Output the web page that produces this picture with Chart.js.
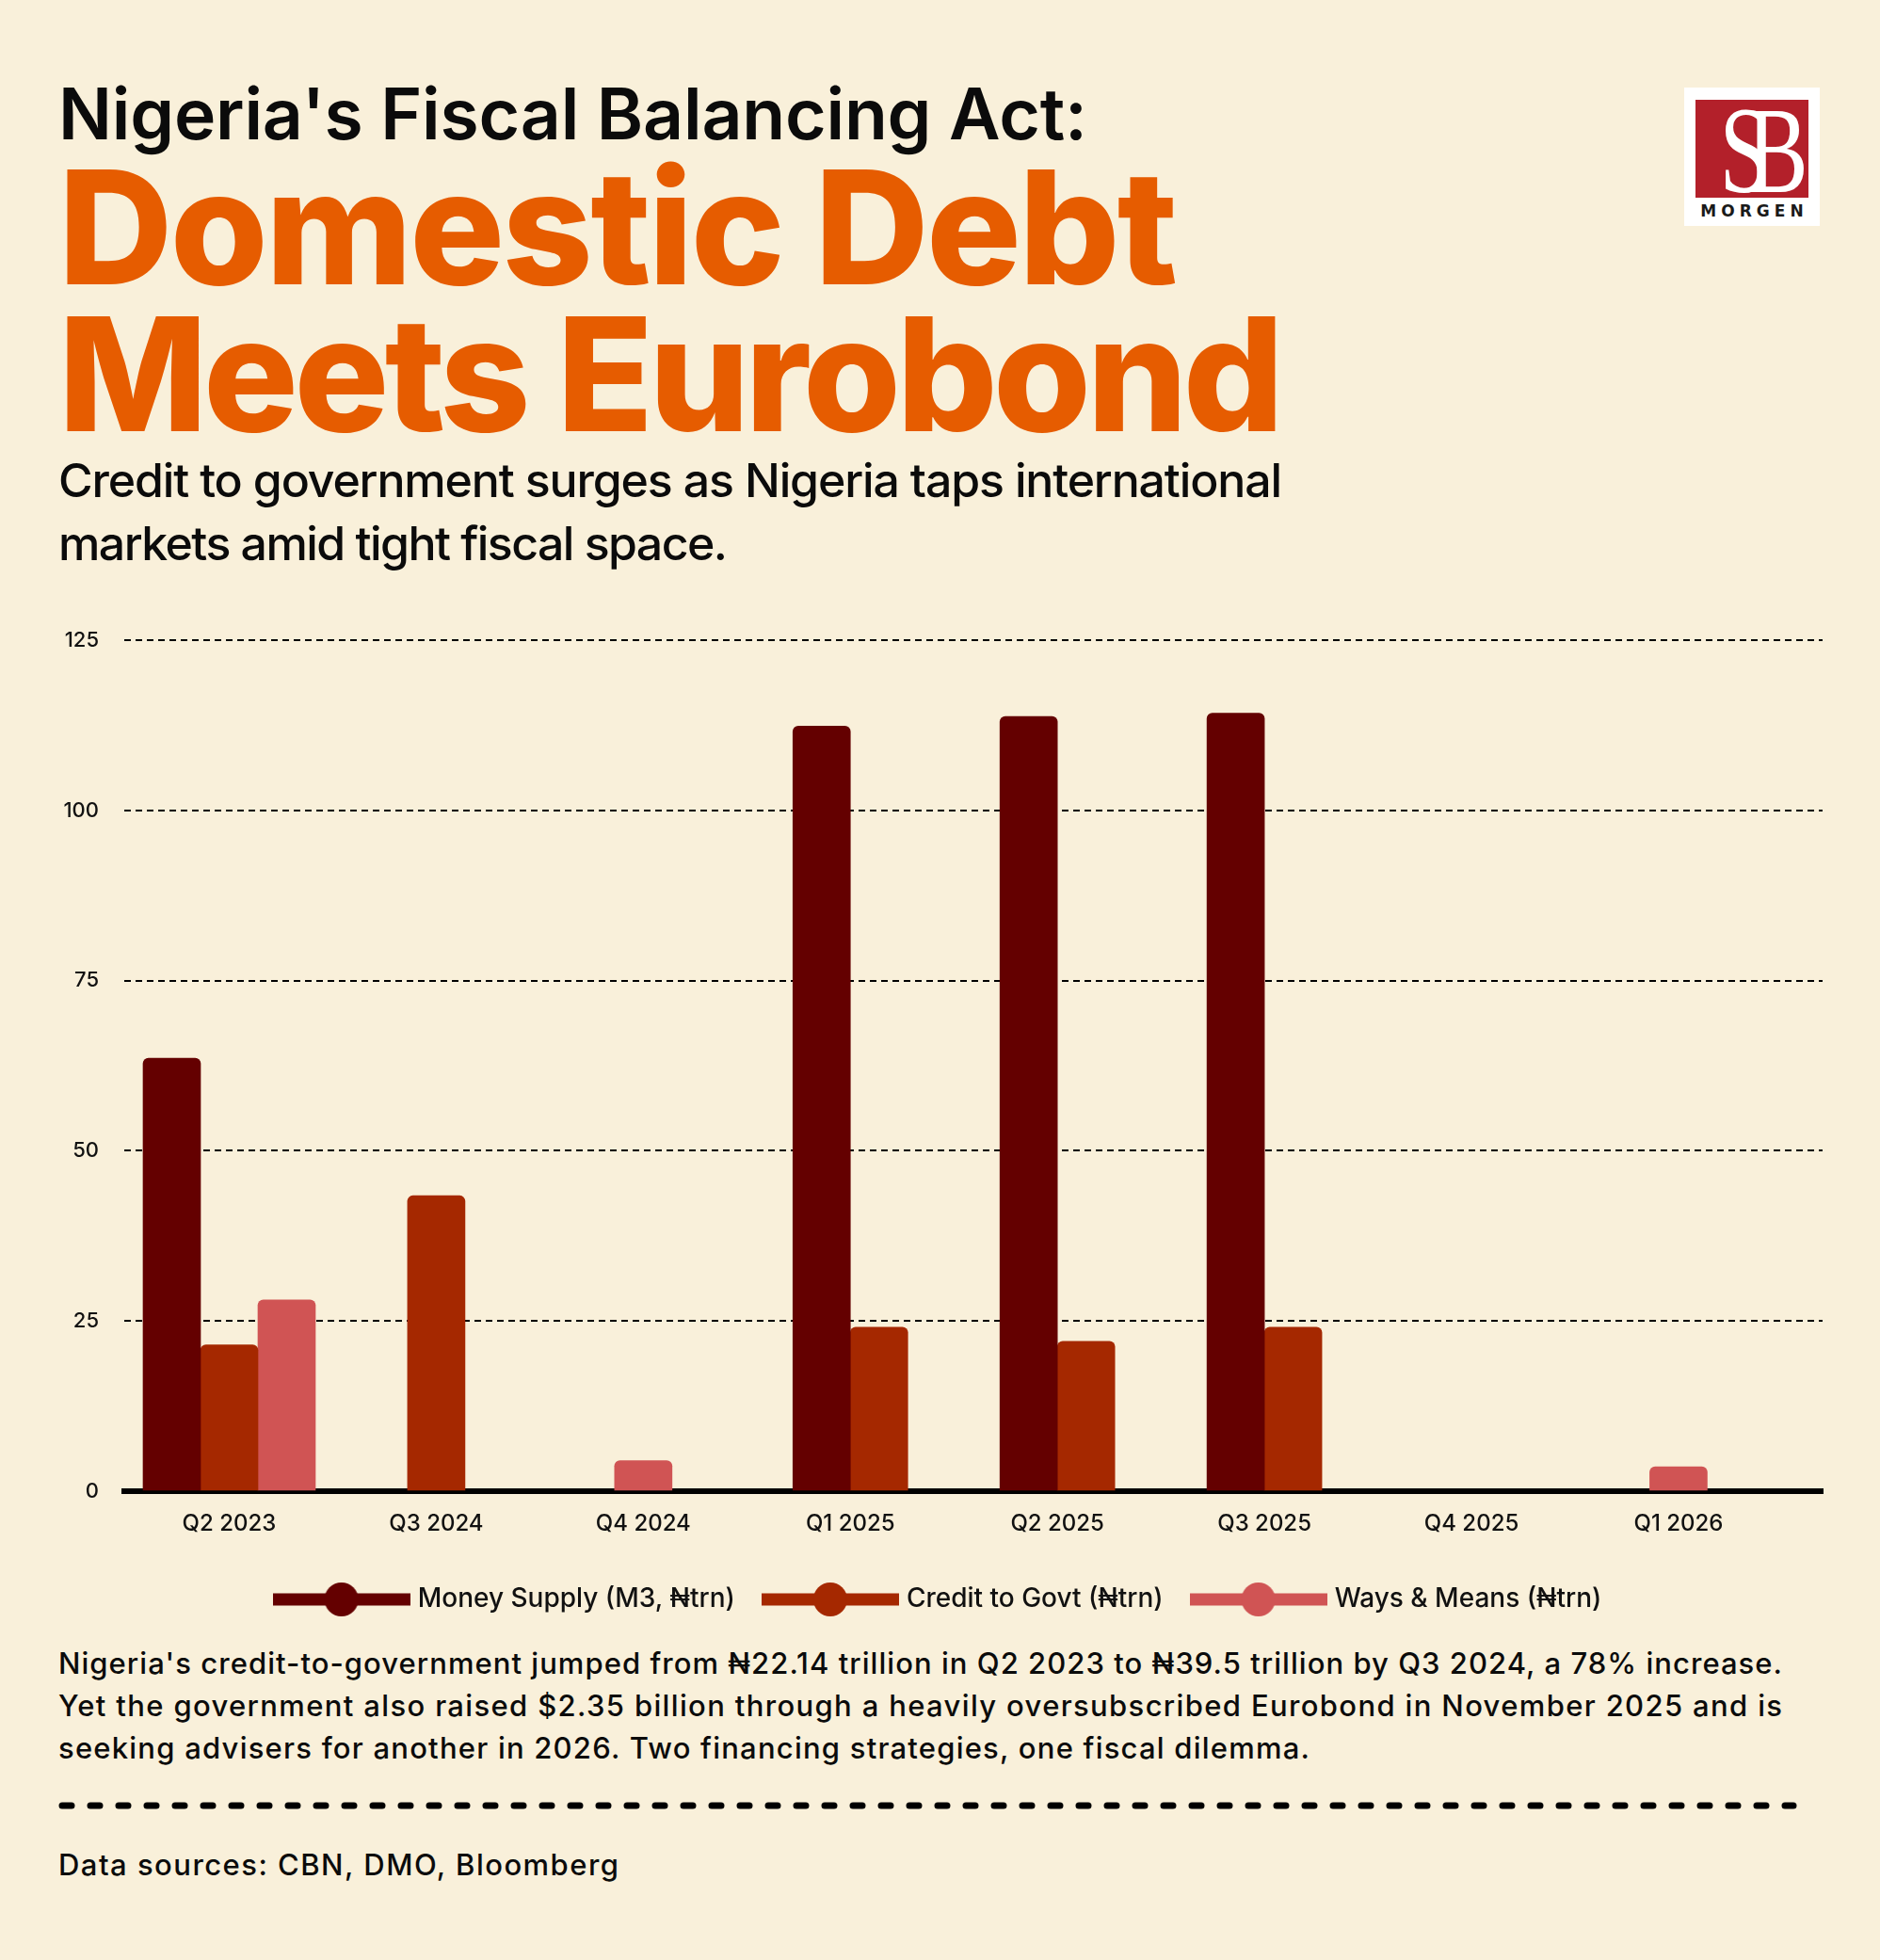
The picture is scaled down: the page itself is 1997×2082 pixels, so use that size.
<!DOCTYPE html>
<html>
<head>
<meta charset="utf-8">
<script src="https://cdn.jsdelivr.net/npm/chart.js@4.4.1/dist/chart.umd.min.js"></script>
<style>
  html, body { margin: 0; padding: 0; }
  body { width: 1997px; height: 2082px; background: #F9F0DA; position: relative; overflow: hidden;
         font-family: Inter, 'Noto Sans', sans-serif; color: #0b0b0b; }
  .txt { position: absolute; left: 62px; white-space: nowrap; display: inline-block; line-height: 1; }
  #chartBox { position: absolute; left: 0; top: 640px; width: 1997px; height: 1090px; }
  #logo { position: absolute; left: 1789px; top: 93px; width: 144px; height: 147px; background: #fff; }
  #logoRed { position: absolute; left: 12px; top: 13px; width: 120px; height: 104px; background: #B3202A; overflow: hidden; }
  #logoSB { position: absolute; left: 0; top: -12px; width: 120px; text-align: center; color: #fff;
            font-family: 'Liberation Serif', 'DejaVu Serif', serif; font-size: 132px; line-height: 1;
            letter-spacing: -34px; transform: scaleX(0.74); transform-origin: 50% 0; }
  #logoMorgen { position: absolute; left: 0; top: 121px; width: 144px; text-align: center;
                font-family: 'DejaVu Sans', sans-serif; font-weight: 600; font-size: 17px; letter-spacing: 5px;
                padding-left: 5px; box-sizing: border-box; color: #1a1a1a; }
</style>
</head>
<body>

<div class="txt" id="t1" style="font-size:75px;font-weight:600;">Nigeria's Fiscal Balancing Act:</div>
<div class="txt" id="t2" style="font-size:168px;font-weight:800;color:#E65C00;">Domestic Debt</div>
<div class="txt" id="t3" style="font-size:168px;font-weight:800;color:#E65C00;">Meets Eurobond</div>
<div class="txt" id="s1" style="font-size:50px;font-weight:500;">Credit to government surges as Nigeria taps international</div>
<div class="txt" id="s2" style="font-size:50px;font-weight:500;">markets amid tight fiscal space.</div>

<div id="logo">
  <div id="logoRed"><div id="logoSB">SB</div></div>
  <div id="logoMorgen">MORGEN</div>
</div>

<div id="chartBox"><canvas id="debtChart"></canvas></div>

<div class="txt" id="b1" style="font-size:31px;font-weight:500;">Nigeria's credit-to-government jumped from ₦22.14 trillion in Q2 2023 to ₦39.5 trillion by Q3 2024, a 78% increase.</div>
<div class="txt" id="b2" style="font-size:31px;font-weight:500;">Yet the government also raised $2.35 billion through a heavily oversubscribed Eurobond in November 2025 and is</div>
<div class="txt" id="b3" style="font-size:31px;font-weight:500;">seeking advisers for another in 2026. Two financing strategies, one fiscal dilemma.</div>

<svg style="position:absolute;left:0;top:1900px;" width="1997" height="40">
  <line x1="66" y1="18" x2="1905" y2="18" stroke="#000" stroke-width="7" stroke-linecap="round" stroke-dasharray="10 20"/>
</svg>

<div class="txt" id="src" style="font-size:31px;font-weight:500;">Data sources: CBN, DMO, Bloomberg</div>

<script>
// data (₦ trillion)
const categories = ['Q2 2023', 'Q3 2024', 'Q4 2024', 'Q1 2025', 'Q2 2025', 'Q3 2025', 'Q4 2025', 'Q1 2026'];
const moneySupply = [63.6, null, null, 112.4, 113.8, 114.3, null, null];
const creditToGovt = [21.5, 43.4, null, 24.1, 22.0, 24.1, null, null];
const waysAndMeans = [28.1, null, 4.5, null, null, null, null, 3.6];
const yTicks = [0, 25, 50, 75, 100, 125];

const seriesNames = ['Money Supply (M3, ₦trn)', 'Credit to Govt (₦trn)', 'Ways & Means (₦trn)'];
const seriesColors = ['#640000', '#A52800', '#D05454'];

const FONT = "Inter, 'Noto Sans', sans-serif";

// header / footer text: stretch to the measured widths, then sit on the baseline
function fitText(id, target) {
    const el = document.getElementById(id);
    el.style.letterSpacing = '0px';
    const w = el.getBoundingClientRect().width;
    const n = el.textContent.length;
    el.style.letterSpacing = ((target - w) / Math.max(n - 1, 1)) + 'px';
}
function setBaseline(id, baseline) {
    const el = document.getElementById(id);
    el.style.top = '0px';
    const probe = document.createElement('span');
    probe.style.cssText = 'display:inline-block;width:0;height:0;vertical-align:baseline;';
    el.appendChild(probe);
    const off = probe.getBoundingClientRect().top - el.getBoundingClientRect().top;
    el.removeChild(probe);
    el.style.top = (baseline - off) + 'px';
}
[
    ['t1', 1093, 148], ['t2', 1189, 302], ['t3', 1302, 458],
    ['s1', 1300, 528], ['s2', 711, 595],
    ['b1', 1831, 1778], ['b2', 1831, 1823], ['b3', 1329, 1868],
    ['src', 595, 1992],
].forEach(([id, w, b]) => { fitText(id, w); setBaseline(id, b); });

// legend mark: thick line with a dot in the middle
function legendMark(color) {
    const c = document.createElement('canvas');
    c.width = 146;
    c.height = 36;
    const g = c.getContext('2d');
    g.fillStyle = color;
    g.fillRect(0, 11.5, 146, 13);
    g.beginPath();
    g.arc(73, 18, 18, 0, Math.PI * 2);
    g.fill();
    return c;
}
const legendMarks = seriesColors.map(legendMark);

function toPoints(values) {
    return values.map((v, i) => ({ x: i, y: v }));
}

const ctx = document.getElementById('debtChart');

new Chart(ctx, {
    type: 'bar',
    data: {
        datasets: [
            { label: seriesNames[0], data: toPoints(moneySupply), backgroundColor: seriesColors[0] },
            { label: seriesNames[1], data: toPoints(creditToGovt), backgroundColor: seriesColors[1] },
            { label: seriesNames[2], data: toPoints(waysAndMeans), backgroundColor: seriesColors[2] },
        ],
    },
    options: {
        responsive: true,
        maintainAspectRatio: false,
        animation: false,
        devicePixelRatio: 1,
        layout: { padding: { top: 37, left: 61, right: 61, bottom: 7 } },
        datasets: {
            bar: {
                barThickness: 61,
                skipNull: true, // empty slots don't take space
                borderRadius: { topLeft: 6, topRight: 6 },
                borderSkipped: 'bottom',
                borderWidth: 0,
            },
        },
        plugins: {
            tooltip: { enabled: false },
            legend: {
                display: true,
                position: 'bottom',
                labels: {
                    usePointStyle: true,
                    pointStyleWidth: 134,
                    padding: 34,
                    color: '#111',
                    font: { family: FONT, size: 28, weight: 500 },
                    generateLabels: (chart) => chart.data.datasets.map((ds, i) => ({
                        text: ds.label,
                        fillStyle: ds.backgroundColor,
                        strokeStyle: ds.backgroundColor,
                        lineWidth: 0,
                        pointStyle: legendMarks[i],
                        datasetIndex: i,
                        hidden: !chart.isDatasetVisible(i),
                        fontColor: '#111',
                    })),
                },
            },
        },
        scales: {
            x: {
                type: 'linear',
                offset: false,
                min: -0.507,
                max: 7.696,
                z: 1,
                afterBuildTicks: (scale) => {
                    scale.ticks = categories.map((c, i) => ({ value: i }));
                },
                afterFit: (scale) => { scale.height = 67; },
                grid: { display: false, drawTicks: false, offset: false },
                border: { display: true, color: '#000', width: 6 },
                ticks: {
                    autoSkip: false,
                    maxRotation: 0,
                    minRotation: 0,
                    padding: 20,
                    color: '#111',
                    font: { family: FONT, size: 24, weight: 500 },
                    callback: (v) => categories[v],
                },
            },
            y: {
                min: 0,
                max: 125,
                afterBuildTicks: (scale) => {
                    scale.ticks = yTicks.map((v) => ({ value: v }));
                },
                afterFit: (scale) => { scale.width = 71; },
                grid: {
                    color: '#000',
                    lineWidth: 2,
                    drawTicks: false,
                },
                border: { display: false, dash: [7, 5] },
                ticks: {
                    padding: 27,
                    color: '#111',
                    font: { family: FONT, size: 22, weight: 500 },
                },
            },
        },
    },
});
</script>
</body>
</html>
